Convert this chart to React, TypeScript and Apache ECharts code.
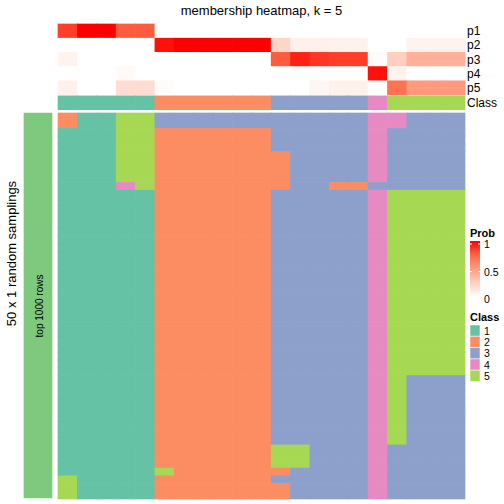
import React, { useEffect, useRef } from "react";
import * as echarts from "echarts";

// ---------- data ----------
const columns: string[] = Array.from({ length: 21 }, (_, i) => `s${i + 1}`);
const probRows: string[] = ["p1", "p2", "p3", "p4", "p5"];
const p1: number[] = [0.85, 1, 1, 0.78, 0.78, 0, 0, 0, 0, 0, 0, 0, 0, 0, 0, 0, 0, 0, 0, 0, 0];
const p2: number[] = [0, 0, 0, 0, 0, 0.96, 1, 1, 1, 1, 1, 0.22, 0.08, 0.08, 0.07, 0.07, 0, 0, 0.06, 0.06, 0.06];
const p3: number[] = [0.06, 0, 0, 0, 0, 0, 0, 0, 0, 0, 0, 0.78, 0.92, 0.87, 0.85, 0.85, 0.02, 0.25, 0.41, 0.41, 0.41];
const p4: number[] = [0, 0, 0, 0.03, 0, 0, 0, 0, 0, 0, 0, 0, 0, 0, 0, 0, 0.96, 0.06, 0, 0, 0];
const p5: number[] = [0.08, 0, 0, 0.18, 0.18, 0.02, 0, 0, 0, 0, 0, 0, 0, 0.05, 0.07, 0.07, 0, 0.7, 0.52, 0.52, 0.52];
const classOfColumn: number[] = [1, 1, 1, 1, 1, 2, 2, 2, 2, 2, 2, 3, 3, 3, 3, 3, 4, 5, 5, 5, 5];
// sampling rows: [repeat count, class per column]
const samplingGroups: [number, string][] = [
  [2, "211553333333333344333"],
  [3, "111552222223333343333"],
  [4, "111552222222333343333"],
  [1, "111452222222332233333"],
  [24, "111112222223333345555"],
  [9, "111112222223333345333"],
  [3, "111112222225533343333"],
  [1, "111115222222333343333"],
  [1, "511112222223333343333"],
  [2, "511112222222333343333"],
];
const classLabels: string[] = ["1", "2", "3", "4", "5"];
const classColors: string[] = ["#66C2A5", "#FC8D62", "#8DA0CB", "#E78AC3", "#A6D854"];
const probColors: string[] = ["#FFFFFF", "#FFCFBF", "#FF9E81", "#FF6846", "#FF0000"];
const probTicks: string[] = ["1", "0.5", "0"];

const FONT = "'Liberation Sans', Arial, Helvetica, sans-serif";

const cellRender = (params: any, api: any) => {
  const p = api.coord([api.value(0), api.value(1)]);
  const s = api.size([1, 1]);
  const pad = 0.35;
  return {
    type: "rect",
    shape: {
      x: p[0] - s[0] / 2 - pad,
      y: p[1] - s[1] / 2 - pad,
      width: s[0] + 2 * pad,
      height: s[1] + 2 * pad,
    },
    style: { fill: api.visual("color") },
  };
};

export default function App() {
  const ref = useRef<HTMLDivElement>(null);
  useEffect(() => {
    if (!ref.current) return;
    const chart = echarts.init(ref.current, undefined, { renderer: "svg" });

    const probData: number[][] = [];
    [p1, p2, p3, p4, p5].forEach((row, r) =>
      row.forEach((v, c) => probData.push([c, r, v]))
    );
    const classData = classOfColumn.map((v, c) => [c, 0, v]);
    const sampleRows: string[] = [];
    samplingGroups.forEach(([n, s]) => {
      for (let i = 0; i < n; i++) sampleRows.push(s);
    });
    const mainData: number[][] = [];
    sampleRows.forEach((s, r) =>
      s.split("").forEach((ch, c) => mainData.push([c, r, Number(ch)]))
    );
    const rowIds = sampleRows.map((_, i) => `r${i + 1}`);

    const L = 58, W = 407;
    const hiddenCat = (data: string[], gridIndex: number, inverse = false) => ({
      type: "category",
      data,
      gridIndex,
      inverse,
      show: false,
    });
    const labelY = (data: string[], gridIndex: number) => ({
      type: "category",
      data,
      gridIndex,
      inverse: true,
      position: "right",
      axisLine: { show: false },
      axisTick: { show: false },
      splitLine: { show: false },
      axisLabel: { interval: 0, margin: 2, fontSize: 12, color: "#000", fontFamily: FONT },
    });

    const legendX = 470;
    const gradTop = 241, gradH = 56;
    const keyTop = 325, keyH = 11.3;

    const graphic: any[] = [
      {
        type: "text",
        x: (L + L + W) / 2,
        y: 10,
        style: {
          text: "membership heatmap, k = 5",
          fontSize: 13,
          fontFamily: FONT,
          fill: "#000",
          align: "center",
          verticalAlign: "middle",
        },
      },
      {
        type: "text",
        x: 11,
        y: 253.5,
        rotation: Math.PI / 2,
        style: {
          text: "50 x 1 random samplings",
          fontSize: 13,
          fontFamily: FONT,
          fill: "#000",
          align: "center",
          verticalAlign: "middle",
        },
      },
      {
        type: "text",
        x: 39,
        y: 306,
        rotation: Math.PI / 2,
        z: 10,
        style: {
          text: "top 1000 rows",
          fontSize: 10,
          fontFamily: FONT,
          fill: "#000",
          align: "center",
          verticalAlign: "middle",
        },
      },
      {
        type: "text",
        x: legendX,
        y: 233,
        style: {
          text: "Prob",
          fontSize: 11,
          fontWeight: "bold",
          fontFamily: FONT,
          fill: "#000",
          verticalAlign: "middle",
        },
      },
      {
        type: "rect",
        shape: { x: legendX, y: gradTop, width: 10, height: gradH },
        style: {
          fill: new echarts.graphic.LinearGradient(0, 0, 0, 1,
            probColors.slice().reverse().map((c, i, a) => ({ offset: i / (a.length - 1), color: c }))
          ),
        },
      },
      ...probTicks.map((t, i) => ({
        type: "text",
        x: legendX + 14,
        y: gradTop + 3 + i * 27.5,
        style: {
          text: t,
          fontSize: 10.5,
          fontFamily: FONT,
          fill: "#000",
          verticalAlign: "middle",
        },
      })),
      ...[0, 1].map((i) => ({
        type: "line",
        shape: { x1: legendX, y1: gradTop + 3 + i * 27.5, x2: legendX + 2, y2: gradTop + 3 + i * 27.5 },
        style: { stroke: "#fff", lineWidth: 1 },
      })),
      ...[0, 1].map((i) => ({
        type: "line",
        shape: { x1: legendX + 8, y1: gradTop + 3 + i * 27.5, x2: legendX + 10, y2: gradTop + 3 + i * 27.5 },
        style: { stroke: "#fff", lineWidth: 1 },
      })),
      {
        type: "text",
        x: legendX,
        y: 317,
        style: {
          text: "Class",
          fontSize: 11,
          fontWeight: "bold",
          fontFamily: FONT,
          fill: "#000",
          verticalAlign: "middle",
        },
      },
      ...classLabels.map((c, i) => ({
        type: "rect",
        shape: { x: legendX, y: keyTop + i * keyH, width: 10, height: keyH },
        style: { fill: classColors[i], stroke: "#fff", lineWidth: 0.5 },
      })),
      ...classLabels.map((c, i) => ({
        type: "text",
        x: legendX + 14,
        y: keyTop + i * keyH + keyH / 2,
        style: {
          text: c,
          fontSize: 10.5,
          fontFamily: FONT,
          fill: "#000",
          verticalAlign: "middle",
        },
      })),
    ];

    const cellSeries = (xAxisIndex: number, data: number[][]) => ({
      type: "custom",
      xAxisIndex,
      yAxisIndex: xAxisIndex,
      data,
      encode: { x: 0, y: 1 },
      renderItem: cellRender,
      clip: false,
    });

    chart.setOption({
      animation: false,
      backgroundColor: "#fff",
      grid: [
        { left: L, top: 24, width: W, height: 71 },
        { left: L, top: 95.9, width: W, height: 13.8 },
        { left: L, top: 113, width: W, height: 386 },
        { left: 24, top: 113, width: 28, height: 385 },
      ],
      xAxis: [
        hiddenCat(columns, 0),
        hiddenCat(columns, 1),
        hiddenCat(columns, 2),
        hiddenCat(["all"], 3),
      ],
      yAxis: [
        labelY(probRows, 0),
        labelY(["Class"], 1),
        hiddenCat(rowIds, 2, true),
        hiddenCat(["top 1000 rows"], 3, true),
      ],
      visualMap: [
        {
          type: "continuous",
          seriesIndex: 0,
          dimension: 2,
          min: 0,
          max: 1,
          show: false,
          inRange: { color: probColors },
        },
        {
          type: "piecewise",
          seriesIndex: [1, 2],
          dimension: 2,
          show: false,
          pieces: classLabels.map((c, i) => ({ value: Number(c), color: classColors[i] })),
        },
        {
          type: "piecewise",
          seriesIndex: 3,
          dimension: 2,
          show: false,
          pieces: [{ value: 1, color: "#7FC97F" }],
        },
      ],
      series: [
        cellSeries(0, probData),
        cellSeries(1, classData),
        cellSeries(2, mainData),
        cellSeries(3, [[0, 0, 1]]),
      ],
      graphic,
    });
    return () => chart.dispose();
  }, []);
  return (
    <div
      ref={ref}
      style={{ position: "fixed", left: 0, top: 0, width: 504, height: 504, background: "#fff" }}
    />
  );
}
